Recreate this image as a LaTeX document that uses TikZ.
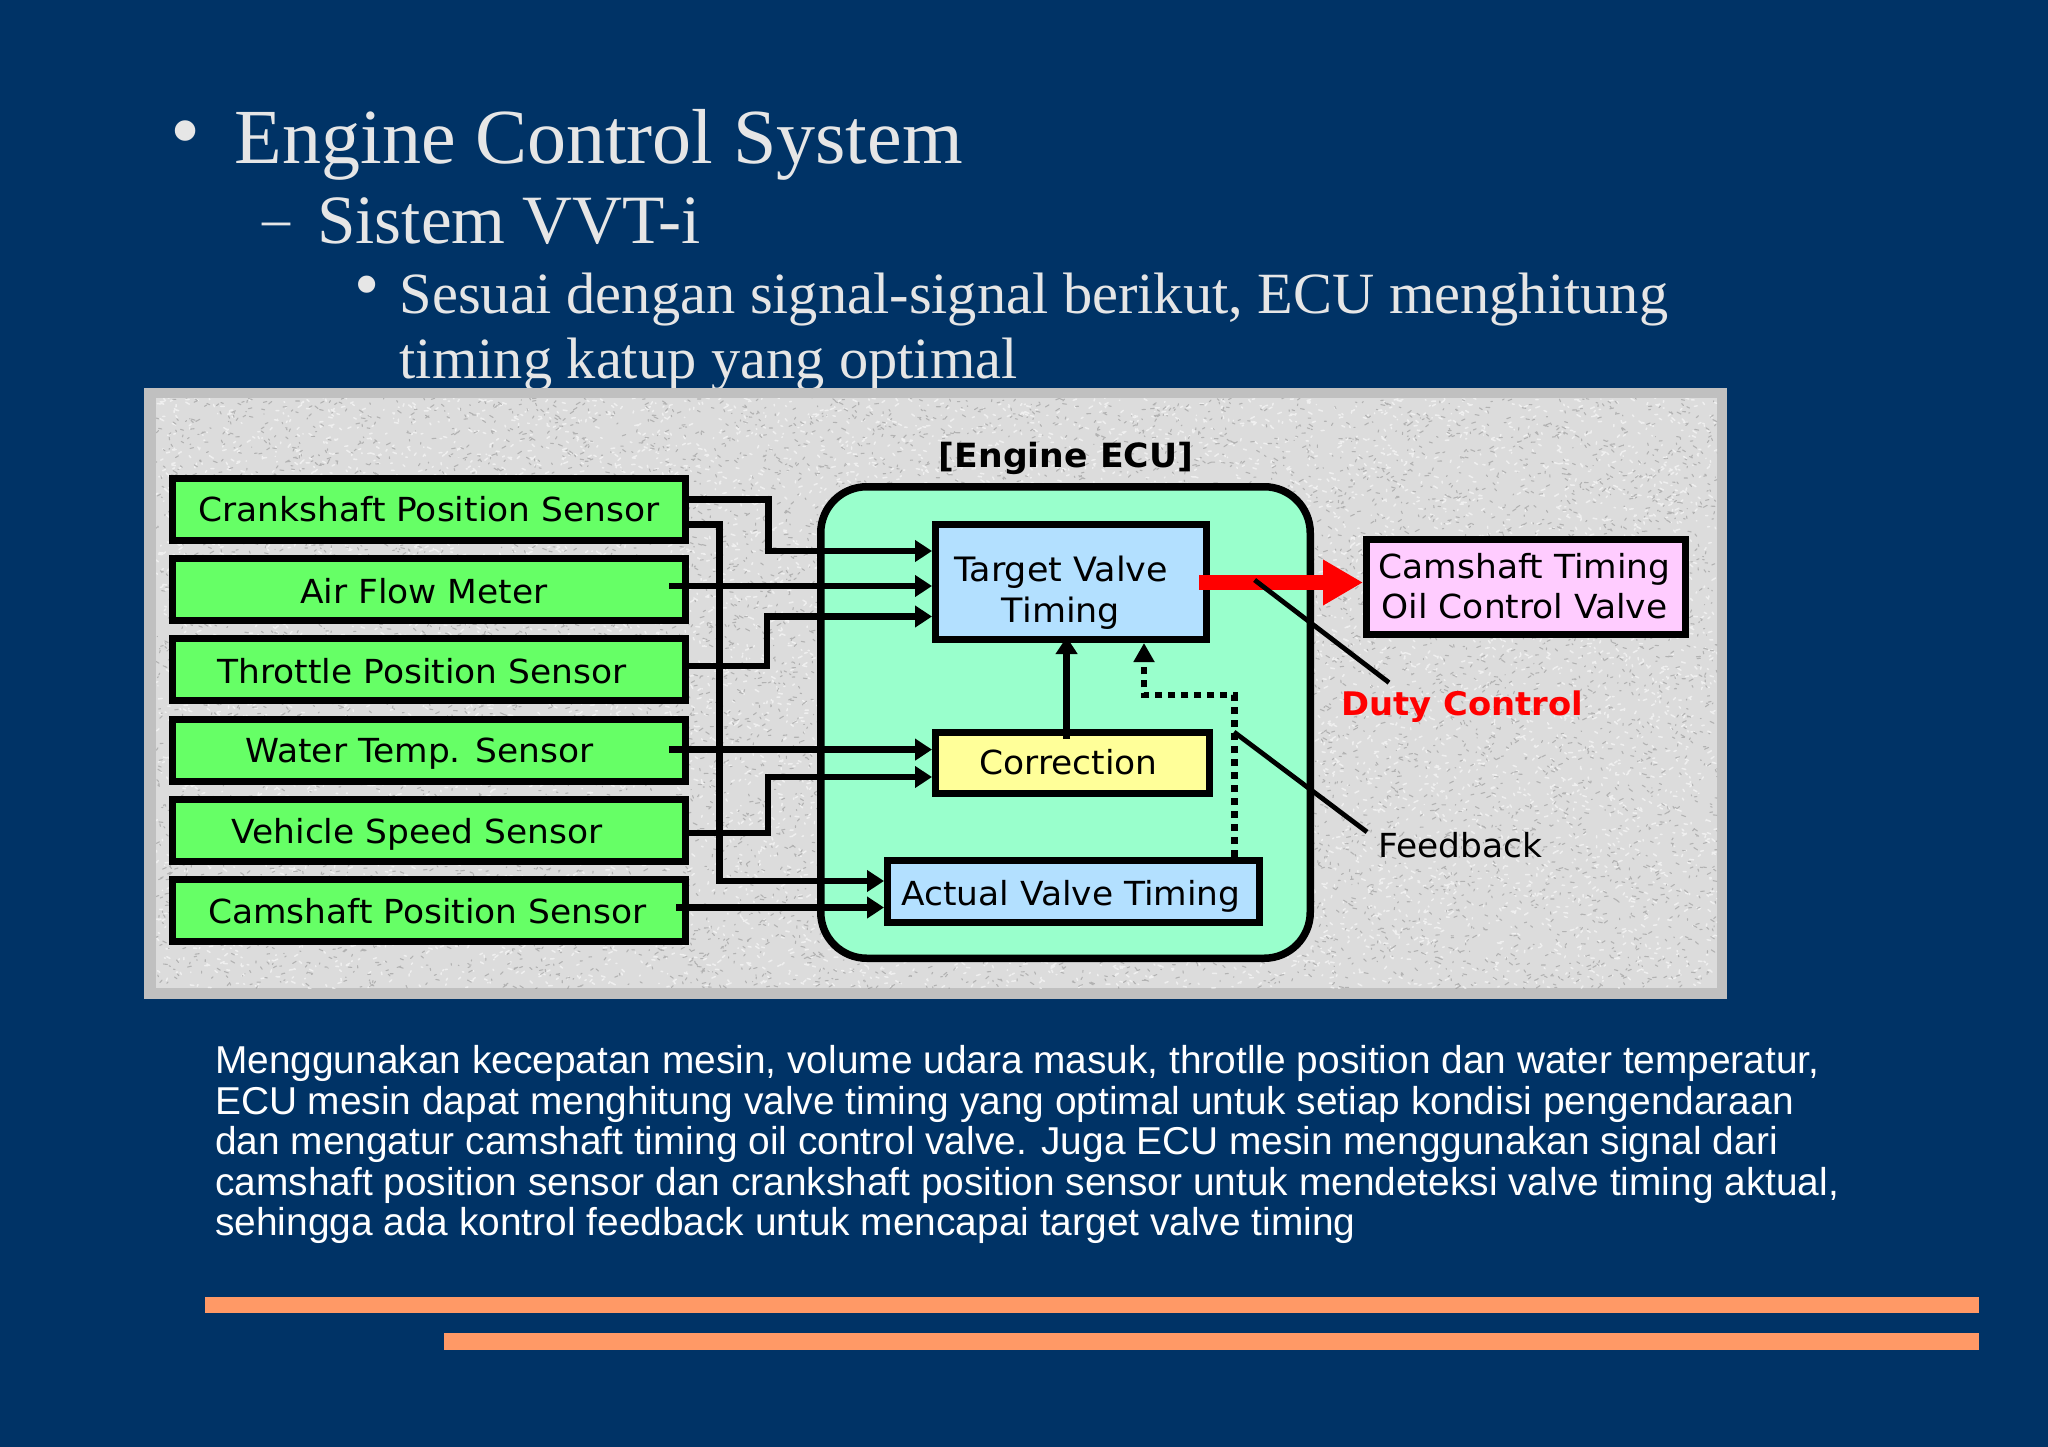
\documentclass[tikz,border=0pt]{standalone}
\usepackage{fontspec}
\usetikzlibrary{arrows.meta}
\setmainfont{Liberation Serif}
\newfontfamily\dejafont[FakeStretch=1.04]{DejaVu Sans}
\newfontfamily\arialfont{Liberation Sans}
\definecolor{slidebg}{HTML}{003366}
\definecolor{titlegray}{HTML}{E6E6E6}
\definecolor{bargold}{HTML}{FF9966}
\definecolor{panelframe}{HTML}{C0C0C0}
\definecolor{panelfill}{HTML}{DCDCDC}
\definecolor{sensorgreen}{HTML}{66FF66}
\definecolor{ecugreen}{HTML}{99FFCC}
\definecolor{calcblue}{HTML}{B3E0FF}
\definecolor{corryellow}{HTML}{FFFF99}
\definecolor{valvepink}{HTML}{FFCCFF}
\tikzset{
  every node/.style={inner sep=0pt},
  slidetext/.style={anchor=base west,text=titlegray},
  bulletmark/.style={anchor=center,text=titlegray},
  bodytext/.style={anchor=base west,text=white,font=\arialfont\fontsize{38.85}{38.85}\selectfont},
  boxnode/.style={draw=black,line width=7pt,rectangle},
  sensorbox/.style={boxnode,fill=sensorgreen,minimum width=513pt,minimum height=62pt},
  labeltext/.style={anchor=base,text=black,font=\dejafont\fontsize{33.1}{33.1}\selectfont},
  conn/.style={draw=black,line width=6.7pt},
  connarrow/.style={conn,-{Triangle[length=17pt,width=21pt]}},
  thinline/.style={draw=black,line width=4.8pt},
}
\begin{document}
\begin{tikzpicture}[x=1pt,y=-1pt]
\useasboundingbox (0,0) rectangle (2048,1447);
\fill[slidebg] (0,0) rectangle (2048,1447);
% heading
\node[bulletmark,font=\fontsize{86}{86}\selectfont] (b1) at (186,140) {•};
\node[slidetext,font=\fontsize{78}{78}\selectfont] (h1) at (234.5,164) {Engine Control System};
\node[bulletmark,font=\fontsize{56}{56}\selectfont] (b2) at (276,230) {–};
\node[slidetext,font=\fontsize{69.2}{69.2}\selectfont] (h2) at (317,244) {Sistem VVT-i};
\node[bulletmark,font=\fontsize{72}{72}\selectfont] (b3) at (367.5,292) {•};
\node[slidetext,font=\fontsize{58.4}{58.4}\selectfont] (h3) at (399.5,313) {Sesuai dengan signal-signal berikut, ECU menghitung};
\node[slidetext,font=\fontsize{58.4}{58.4}\selectfont] (h4) at (399.5,378.5) {timing katup yang optimal};
% panel
\fill[panelframe] (144,388) rectangle (1727,999);
\fill[panelfill] (156,398) rectangle (1717,988);
\begin{scope}
\clip (156,398) rectangle (1717,988);
\pgfmathsetseed{4217}
\draw[white,line width=1.5pt,opacity=.55,line cap=round] \foreach \i in {1,...,9000}{ ({156+1561*rnd},{398+590*rnd}) -- ++({-4+8*rnd},{-2.5+5*rnd}) };
\draw[black!50,line width=1.1pt,opacity=.45,line cap=round] \foreach \i in {1,...,9000}{ ({156+1561*rnd},{398+590*rnd}) -- ++({-4+8*rnd},{-2.5+5*rnd}) };
\end{scope}
% ECU
\draw[line width=7.5pt,draw=black,fill=ecugreen,rounded corners=46pt] (820.75,486.75) rectangle (1310.25,958.25);
\node[anchor=base,font=\dejafont\bfseries\fontsize{33.3}{33.3}\selectfont] (ecu) at (1066,467) {[Engine ECU]};
% sensors
\node[sensorbox] (s1) at (429,509.5) {};
\node[sensorbox] (s2) at (429,589.5) {};
\node[sensorbox] (s3) at (429,669.5) {};
\node[sensorbox] (s4) at (429,750) {};
\node[sensorbox] (s5) at (429,830) {};
\node[sensorbox] (s6) at (429,910) {};
\node[labeltext] (s1t) at (429,521.6) {Crankshaft Position Sensor};
\node[labeltext] (s2t) at (424,603) {Air Flow Meter};
\node[labeltext] (s3t) at (422,683) {Throttle Position Sensor};
\node[labeltext] (s4t) at (419.5,762.7) {Water Temp. Sensor};
\node[labeltext] (s5t) at (417,843) {Vehicle Speed Sensor};
\node[labeltext] (s6t) at (427.5,923) {Camshaft Position Sensor};
% ECU blocks
\node[boxnode,fill=calcblue,minimum width=271pt,minimum height=115pt] (tv) at (1071,582) {};
\node[boxnode,fill=corryellow,minimum width=274pt,minimum height=61.5pt] (co) at (1072.5,762.75) {};
\node[boxnode,fill=calcblue,minimum width=371.5pt,minimum height=62pt] (av) at (1073.25,891.5) {};
\node[boxnode,fill=valvepink,minimum width=319pt,minimum height=94.5pt] (cv) at (1526,586.75) {};
\node[labeltext,font=\dejafont\fontsize{33.6}{33.6}\selectfont] (tv1) at (1061,581) {Target Valve};
\node[labeltext,font=\dejafont\fontsize{33.6}{33.6}\selectfont] (tv2) at (1061,622) {Timing};
\node[labeltext] (cot) at (1068.4,774) {Correction};
\node[labeltext] (avt) at (1071,905.6) {Actual Valve Timing};
\node[labeltext] (cv1) at (1524.6,578) {Camshaft Timing};
\node[labeltext] (cv2) at (1524.6,618.5) {Oil Control Valve};
% connectors
\coordinate (a2) at (669,586);
\coordinate (a4) at (669,749.6);
\coordinate (a6) at (676,907.5);
\draw[connarrow] (s1.east|-0,499.7) -- (768.6,499.7) -- (768.6,551) -- (tv.west|-0,551);
\draw[connarrow] (a2) -- (tv.west|-a2);
\draw[connarrow] (s3.east|-0,666) -- (767,666) -- (767,616.5) -- (tv.west|-0,616.5);
\draw[connarrow] (a4) -- (co.west|-a4);
\draw[connarrow] (s5.east|-0,833) -- (768,833) -- (768,777) -- (co.west|-0,777);
\draw[connarrow] (s1.east|-0,524.6) -- (719.5,524.6) -- (719.5,881) -- (av.west|-0,881);
\draw[connarrow] (a6) -- (av.west|-a6);
\draw[connarrow] (1066.6,739) -- (1066.6,637);
\draw[conn,dash pattern=on 7pt off 6pt,-{Triangle[length=19pt,width=20pt]}] (av.north-|1234.4,0) -- (1234.4,695) -- (1144,695) -- (tv.south-|1144,0);
% red output
\draw[draw=red,line width=15pt,-{Triangle[length=40pt,width=43pt]}] (1199,582.5) -- (cv.west|-0,582.5);
% leaders
\coordinate (dutyend) at (1389,682.6);
\coordinate (feedend) at (1367,832);
\draw[thinline] (1254.6,580) -- (dutyend);
\draw[thinline] (1234,732) -- (feedend);
\node[anchor=base west,text=red,font=\dejafont\bfseries\fontsize{32.5}{32.5}\selectfont] (duty) at (1341,715.6) {Duty Control};
\node[anchor=base west,text=black,font=\dejafont\fontsize{33.1}{33.1}\selectfont] (feed) at (1378,857) {Feedback};
% paragraph
\node[bodytext] (p1) at (215,1073.5) {Menggunakan kecepatan mesin, volume udara masuk, throtlle position dan water temperatur,};
\node[bodytext] (p2) at (215,1114) {ECU mesin dapat menghitung valve timing yang optimal untuk setiap kondisi pengendaraan};
\node[bodytext] (p3) at (215,1154.5) {dan mengatur camshaft timing oil control valve. Juga ECU mesin menggunakan signal dari};
\node[bodytext] (p4) at (215,1195) {camshaft position sensor dan crankshaft position sensor untuk mendeteksi valve timing aktual,};
\node[bodytext] (p5) at (215,1235.5) {sehingga ada kontrol feedback untuk mencapai target valve timing};
% bars
\fill[bargold] (205,1297) rectangle (1979,1313);
\fill[bargold] (444,1333) rectangle (1979,1350);
\end{tikzpicture}
\end{document}
